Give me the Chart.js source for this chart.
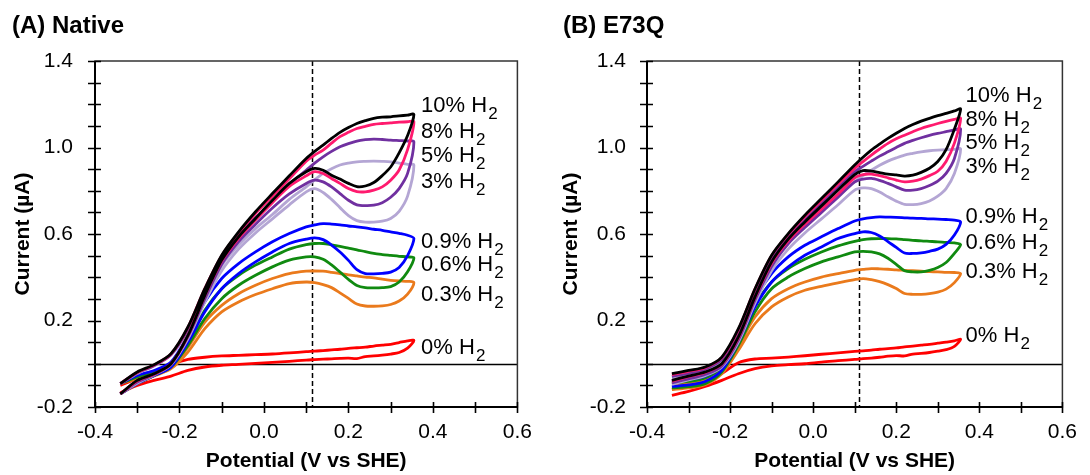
<!DOCTYPE html>
<html lang="en">
<head>
<meta charset="UTF-8">
<title>H2 oxidation voltammograms</title>
<script src="https://cdn.jsdelivr.net/npm/chart.js"></script>
<style>
  html, body { margin: 0; padding: 0; background: #fff; }
  #wrap { position: relative; width: 1090px; height: 475px; }
  canvas { position: absolute; top: 0; }
  #cvA { left: 0; }
  #cvB { left: 545px; }
</style>
</head>
<body>
<div id="wrap">
  <canvas id="cvA" width="545" height="475"></canvas>
  <canvas id="cvB" width="545" height="475"></canvas>
</div>
<script>
// potential (V vs SHE): upper sweep out to the vertex, then the return sweep
const potForward = [-0.34, -0.30, -0.26, -0.22, -0.18, -0.14, -0.10, -0.06, -0.02, 0.02, 0.06, 0.10, 0.12, 0.14, 0.16, 0.18, 0.20, 0.22, 0.24, 0.26, 0.28, 0.30, 0.32, 0.34, 0.355];
const potReverse = [0.34, 0.32, 0.30, 0.28, 0.26, 0.24, 0.22, 0.20, 0.18, 0.16, 0.14, 0.12, 0.10, 0.06, 0.02, -0.02, -0.06, -0.10, -0.14, -0.18, -0.22, -0.26, -0.30, -0.34];

const gasLabels = ['10%', '8%', '5%', '3%', '0.9%', '0.6%', '0.3%', '0%'];
const lineColors = ['#000000', '#ff1a6e', '#7030a0', '#b4a6d4', '#0000ff', '#108a10', '#ea7a1c', '#ff0000'];

// (A) Native, current in uA
const native10Up = [-0.092, -0.038, -0.004, 0.047, 0.170, 0.347, 0.502, 0.610, 0.703, 0.787, 0.869, 0.949, 0.982, 1.011, 1.042, 1.070, 1.092, 1.111, 1.124, 1.135, 1.140, 1.142, 1.146, 1.150, 1.153];
const native10Down = [1.055, 0.975, 0.910, 0.870, 0.838, 0.822, 0.819, 0.834, 0.854, 0.872, 0.895, 0.903, 0.888, 0.834, 0.756, 0.672, 0.587, 0.479, 0.316, 0.131, 0.000, -0.046, -0.077, -0.139];
const native8Up = [-0.092, -0.040, -0.006, 0.045, 0.168, 0.348, 0.500, 0.605, 0.695, 0.775, 0.855, 0.937, 0.965, 0.988, 1.020, 1.050, 1.070, 1.088, 1.098, 1.107, 1.111, 1.114, 1.117, 1.119, 1.119];
const native8Down = [0.990, 0.896, 0.849, 0.818, 0.803, 0.795, 0.796, 0.810, 0.834, 0.857, 0.880, 0.888, 0.869, 0.820, 0.745, 0.665, 0.580, 0.475, 0.315, 0.130, 0.000, -0.048, -0.080, -0.139];
const native5Up = [-0.092, -0.042, -0.008, 0.043, 0.160, 0.335, 0.485, 0.590, 0.675, 0.750, 0.830, 0.895, 0.928, 0.957, 0.982, 1.003, 1.018, 1.030, 1.036, 1.039, 1.037, 1.034, 1.032, 1.030, 1.027];
const native5Down = [0.880, 0.810, 0.770, 0.745, 0.733, 0.731, 0.735, 0.756, 0.787, 0.818, 0.841, 0.849, 0.834, 0.785, 0.720, 0.645, 0.565, 0.460, 0.300, 0.125, 0.000, -0.050, -0.085, -0.139];
const native3Up = [-0.092, -0.045, -0.010, 0.040, 0.150, 0.315, 0.455, 0.550, 0.625, 0.690, 0.760, 0.818, 0.850, 0.880, 0.902, 0.919, 0.928, 0.934, 0.936, 0.937, 0.936, 0.934, 0.928, 0.922, 0.919];
const native3Down = [0.775, 0.705, 0.672, 0.659, 0.655, 0.655, 0.662, 0.685, 0.722, 0.760, 0.792, 0.810, 0.795, 0.735, 0.670, 0.605, 0.530, 0.430, 0.285, 0.115, -0.005, -0.052, -0.090, -0.139];
const native09Up = [-0.092, -0.054, -0.031, 0.008, 0.131, 0.286, 0.394, 0.463, 0.517, 0.564, 0.602, 0.633, 0.642, 0.648, 0.646, 0.642, 0.637, 0.633, 0.628, 0.622, 0.617, 0.610, 0.603, 0.594, 0.579];
const native09Down = [0.500, 0.445, 0.424, 0.418, 0.416, 0.417, 0.435, 0.478, 0.517, 0.549, 0.574, 0.582, 0.576, 0.556, 0.517, 0.471, 0.417, 0.347, 0.240, 0.100, -0.015, -0.054, -0.092, -0.139];
const native06Up = [-0.092, -0.061, -0.038, 0.000, 0.100, 0.247, 0.347, 0.409, 0.456, 0.494, 0.530, 0.551, 0.556, 0.556, 0.550, 0.543, 0.535, 0.527, 0.518, 0.510, 0.505, 0.501, 0.497, 0.494, 0.489];
const native06Down = [0.425, 0.378, 0.357, 0.352, 0.351, 0.352, 0.362, 0.390, 0.424, 0.457, 0.483, 0.494, 0.494, 0.479, 0.448, 0.409, 0.363, 0.301, 0.209, 0.085, -0.015, -0.054, -0.092, -0.139];
const native03Up = [-0.092, -0.069, -0.046, -0.015, 0.077, 0.193, 0.270, 0.324, 0.363, 0.394, 0.417, 0.428, 0.429, 0.428, 0.423, 0.417, 0.411, 0.406, 0.401, 0.397, 0.391, 0.386, 0.383, 0.381, 0.375];
const native03Down = [0.322, 0.290, 0.274, 0.268, 0.266, 0.267, 0.276, 0.302, 0.328, 0.352, 0.366, 0.375, 0.378, 0.371, 0.347, 0.320, 0.286, 0.240, 0.162, 0.054, -0.023, -0.057, -0.092, -0.139];
const native0Up = [-0.100, -0.068, -0.038, -0.004, 0.020, 0.030, 0.036, 0.039, 0.042, 0.045, 0.050, 0.056, 0.058, 0.061, 0.064, 0.067, 0.071, 0.074, 0.077, 0.082, 0.086, 0.090, 0.098, 0.106, 0.108];
const native0Down = [0.072, 0.052, 0.045, 0.040, 0.036, 0.033, 0.024, 0.026, 0.025, 0.023, 0.021, 0.019, 0.017, 0.011, 0.006, 0.002, -0.003, -0.007, -0.015, -0.031, -0.057, -0.077, -0.100, -0.134];

// (B) E73Q, current in uA
const e73q10Up = [-0.046, -0.031, -0.015, 0.031, 0.162, 0.347, 0.502, 0.602, 0.687, 0.764, 0.841, 0.919, 0.955, 0.988, 1.016, 1.042, 1.066, 1.088, 1.106, 1.122, 1.135, 1.147, 1.158, 1.169, 1.178];
const e73q10Down = [1.085, 0.990, 0.935, 0.904, 0.885, 0.872, 0.868, 0.873, 0.877, 0.884, 0.891, 0.893, 0.875, 0.803, 0.730, 0.656, 0.576, 0.471, 0.309, 0.124, 0.000, -0.038, -0.057, -0.077];
const e73q8Up = [-0.050, -0.035, -0.018, 0.028, 0.158, 0.345, 0.500, 0.598, 0.680, 0.755, 0.830, 0.903, 0.935, 0.965, 0.993, 1.019, 1.040, 1.057, 1.073, 1.088, 1.100, 1.111, 1.121, 1.130, 1.135];
const e73q8Down = [1.020, 0.935, 0.890, 0.870, 0.854, 0.844, 0.841, 0.849, 0.860, 0.870, 0.877, 0.875, 0.860, 0.785, 0.715, 0.645, 0.568, 0.465, 0.305, 0.120, -0.003, -0.040, -0.060, -0.080];
const e73q5Up = [-0.058, -0.045, -0.025, 0.020, 0.150, 0.335, 0.485, 0.585, 0.665, 0.740, 0.815, 0.888, 0.913, 0.937, 0.960, 0.980, 1.000, 1.019, 1.033, 1.045, 1.056, 1.065, 1.073, 1.081, 1.085];
const e73q5Down = [0.949, 0.880, 0.844, 0.824, 0.810, 0.803, 0.803, 0.818, 0.834, 0.848, 0.857, 0.854, 0.841, 0.770, 0.700, 0.630, 0.555, 0.450, 0.295, 0.110, -0.010, -0.050, -0.070, -0.088];
const e73q3Up = [-0.065, -0.050, -0.030, 0.012, 0.140, 0.320, 0.465, 0.560, 0.640, 0.710, 0.775, 0.841, 0.870, 0.895, 0.918, 0.937, 0.952, 0.965, 0.973, 0.980, 0.985, 0.988, 0.990, 0.991, 0.993];
const e73q3Down = [0.880, 0.810, 0.775, 0.753, 0.741, 0.736, 0.737, 0.752, 0.772, 0.794, 0.810, 0.813, 0.803, 0.735, 0.670, 0.605, 0.530, 0.430, 0.280, 0.100, -0.015, -0.055, -0.075, -0.095];
const e73q09Up = [-0.080, -0.072, -0.058, -0.008, 0.131, 0.301, 0.417, 0.494, 0.548, 0.587, 0.625, 0.660, 0.670, 0.676, 0.679, 0.678, 0.677, 0.675, 0.673, 0.672, 0.670, 0.669, 0.667, 0.664, 0.656];
const e73q09Down = [0.595, 0.552, 0.530, 0.520, 0.513, 0.510, 0.512, 0.538, 0.565, 0.591, 0.607, 0.610, 0.602, 0.579, 0.540, 0.502, 0.448, 0.378, 0.263, 0.100, -0.031, -0.082, -0.098, -0.105];
const e73q06Up = [-0.090, -0.082, -0.066, -0.015, 0.108, 0.270, 0.378, 0.440, 0.483, 0.517, 0.545, 0.566, 0.574, 0.578, 0.579, 0.579, 0.577, 0.574, 0.571, 0.568, 0.566, 0.564, 0.561, 0.559, 0.551];
const e73q06Down = [0.510, 0.468, 0.445, 0.432, 0.425, 0.425, 0.430, 0.460, 0.488, 0.508, 0.517, 0.520, 0.517, 0.494, 0.471, 0.440, 0.401, 0.347, 0.240, 0.085, -0.038, -0.092, -0.106, -0.112];
const e73q03Up = [-0.095, -0.090, -0.072, -0.023, 0.085, 0.216, 0.301, 0.347, 0.378, 0.401, 0.417, 0.432, 0.436, 0.440, 0.439, 0.437, 0.434, 0.432, 0.430, 0.428, 0.426, 0.425, 0.423, 0.422, 0.417];
const e73q03Down = [0.375, 0.345, 0.331, 0.324, 0.321, 0.321, 0.325, 0.348, 0.366, 0.380, 0.389, 0.394, 0.389, 0.374, 0.358, 0.340, 0.309, 0.263, 0.185, 0.062, -0.046, -0.097, -0.112, -0.120];
const e73q0Up = [-0.118, -0.105, -0.085, -0.045, 0.005, 0.022, 0.026, 0.031, 0.037, 0.044, 0.050, 0.057, 0.060, 0.063, 0.067, 0.070, 0.073, 0.078, 0.082, 0.086, 0.090, 0.095, 0.100, 0.106, 0.113];
const e73q0Down = [0.080, 0.065, 0.058, 0.052, 0.048, 0.045, 0.036, 0.038, 0.035, 0.030, 0.026, 0.024, 0.020, 0.014, 0.008, 0.000, -0.004, -0.010, -0.023, -0.046, -0.077, -0.105, -0.128, -0.146];

// where the "x% H2" labels sit (current units) next to each loop
const labelYNative = [1.165, 1.042, 0.931, 0.811, 0.536, 0.428, 0.289, 0.047];
const labelYE73Q = [1.212, 1.100, 0.993, 0.880, 0.649, 0.530, 0.397, 0.100];

const FONT = '"Liberation Sans", Arial, sans-serif';

function loop(up, down) {
    const pts = potForward.map((x, i) => ({x: x, y: up[i]}));
    return pts.concat(potReverse.map((x, i) => ({x: x, y: down[i]})));
}

// zero line, dashed marker, frame with crossing ticks, labels and panel title
const cvDecor = {
    id: 'cvDecor',
    beforeDatasetsDraw(chart, args, opts) {
        const {ctx, chartArea: a, scales: {x, y}} = chart;
        ctx.save();
        ctx.strokeStyle = '#000';
        ctx.lineWidth = 1.3;
        const y0 = Math.round(y.getPixelForValue(0)) + 0.5;
        ctx.beginPath();
        ctx.moveTo(a.left, y0);
        ctx.lineTo(a.right, y0);
        ctx.stroke();
        const xd = Math.round(x.getPixelForValue(opts.dashAt)) + 0.5;
        ctx.setLineDash([5, 3]);
        ctx.lineWidth = 1.5;
        ctx.beginPath();
        ctx.moveTo(xd, a.top);
        ctx.lineTo(xd, a.bottom);
        ctx.stroke();
        ctx.restore();
    },
    afterDraw(chart, args, opts) {
        const {ctx, chartArea: a, scales: {x, y}} = chart;
        ctx.save();
        ctx.strokeStyle = '#333';
        ctx.lineWidth = 1.5;
        ctx.strokeRect(a.left, a.top, a.right - a.left, a.bottom - a.top);

        ctx.strokeStyle = '#000';
        ctx.lineWidth = 2;
        ctx.beginPath();
        ctx.moveTo(a.left, a.top);
        ctx.lineTo(a.left, a.bottom);
        ctx.lineTo(a.right, a.bottom);
        ctx.stroke();

        ctx.lineWidth = 1.6;
        ctx.beginPath();
        y.ticks.forEach(t => {
            const py = Math.round(y.getPixelForValue(t.value)) + 0.5;
            ctx.moveTo(a.left - 7, py);
            ctx.lineTo(a.left + 6, py);
        });
        x.ticks.forEach(t => {
            const px = Math.round(x.getPixelForValue(t.value)) + 0.5;
            ctx.moveTo(px, a.bottom - 5);
            ctx.lineTo(px, a.bottom + 6);
        });
        ctx.stroke();

        // gas labels with subscript 2
        ctx.fillStyle = '#000';
        ctx.textBaseline = 'alphabetic';
        const lx = x.getPixelForValue(opts.labelX);
        gasLabels.forEach((g, i) => {
            const ly = y.getPixelForValue(opts.labelY[i]);
            ctx.font = '22px ' + FONT;
            const main = g + ' H';
            ctx.fillText(main, lx, ly);
            const w = ctx.measureText(main).width;
            ctx.font = '17px ' + FONT;
            ctx.fillText('2', lx + w + 1, ly + 7);
        });

        ctx.font = 'bold 24px ' + FONT;
        ctx.fillText(opts.title, opts.titleX, 33);
        ctx.restore();
    }
};

function makeChart(id, ups, downs, cfg) {
    const datasets = ups.map((up, i) => ({
        label: gasLabels[i] + ' H2',
        data: loop(up, downs[i]),
        borderColor: lineColors[i],
        borderWidth: 2.8,
        borderJoinStyle: 'round',
        pointRadius: 0,
        showLine: true,
        fill: false,
        tension: 0.3
    }));
    return new Chart(document.getElementById(id), {
        type: 'scatter',
        data: {datasets: datasets},
        plugins: [cvDecor],
        options: {
            responsive: false,
            animation: false,
            devicePixelRatio: 1,
            layout: {padding: {left: 0, right: cfg.padRight, top: 61, bottom: 0}},
            plugins: {
                legend: {display: false},
                tooltip: {enabled: false},
                cvDecor: cfg
            },
            scales: {
                x: {
                    type: 'linear',
                    min: -0.4,
                    max: 0.6,
                    grid: {display: false, drawTicks: false},
                    border: {display: false},
                    ticks: {
                        stepSize: 0.1,
                        autoSkip: false,
                        maxRotation: 0,
                        padding: 13,
                        color: '#000',
                        font: {family: FONT, size: 21},
                        callback: v => (Math.round(v * 10) % 2 === 0 ? v.toFixed(1) : '')
                    },
                    title: {
                        display: true,
                        text: 'Potential (V vs SHE)',
                        color: '#000',
                        font: {family: FONT, size: 21, weight: 'bold'},
                        padding: {top: 0, bottom: 1}
                    },
                    afterFit: s => { s.height = 68; }
                },
                y: {
                    type: 'linear',
                    min: -0.2,
                    max: 1.4,
                    grid: {display: false, drawTicks: false},
                    border: {display: false},
                    ticks: {
                        stepSize: 0.1,
                        autoSkip: false,
                        padding: cfg.tickPad,
                        color: '#000',
                        font: {family: FONT, size: 21},
                        callback: v => (Math.round((v + 0.2) * 10) % 4 === 0 ? v.toFixed(1) : '')
                    },
                    title: {
                        display: true,
                        text: 'Current (\u00b5A)',
                        color: '#000',
                        font: {family: FONT, size: 21, weight: 'bold'},
                        padding: {top: cfg.titlePad, bottom: 0}
                    },
                    afterFit: s => { s.width = cfg.axisLeft; }
                }
            }
        }
    });
}

makeChart('cvA',
    [native10Up, native8Up, native5Up, native3Up, native09Up, native06Up, native03Up, native0Up],
    [native10Down, native8Down, native5Down, native3Down, native09Down, native06Down, native03Down, native0Down],
    {title: '(A) Native', titleX: 12, dashAt: 0.113, labelX: 0.372, labelY: labelYNative,
     axisLeft: 95, padRight: 25, tickPad: 22, titlePad: 11});

makeChart('cvB',
    [e73q10Up, e73q8Up, e73q5Up, e73q3Up, e73q09Up, e73q06Up, e73q03Up, e73q0Up],
    [e73q10Down, e73q8Down, e73q5Down, e73q3Down, e73q09Down, e73q06Down, e73q03Down, e73q0Down],
    {title: '(B) E73Q', titleX: 18, dashAt: 0.110, labelX: 0.367, labelY: labelYE73Q,
     axisLeft: 102, padRight: 19, tickPad: 21, titlePad: 14});
</script>
</body>
</html>
